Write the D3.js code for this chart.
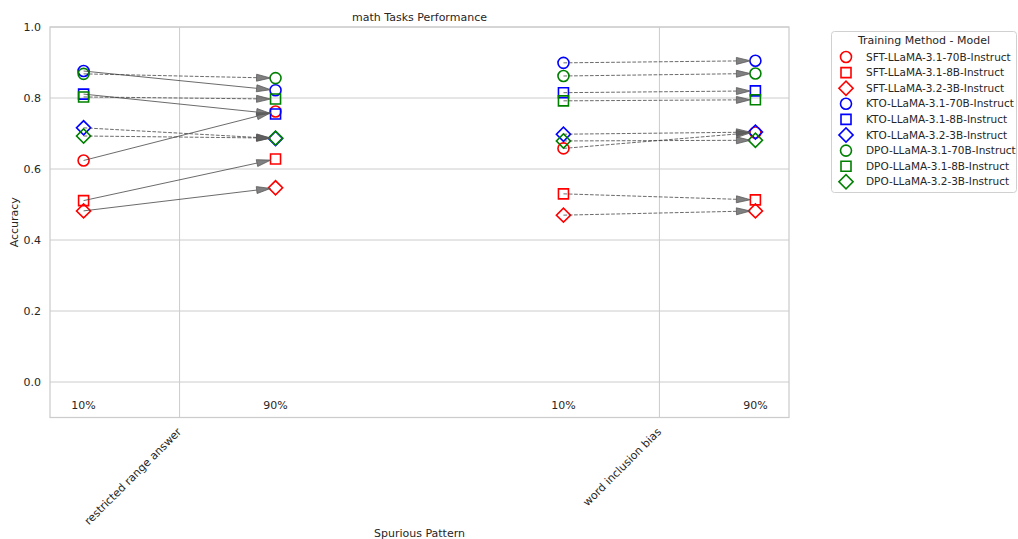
<!DOCTYPE html>
<html>
<head>
<meta charset="utf-8">
<script src="https://cdn.jsdelivr.net/npm/d3@7/dist/d3.min.js"></script>
<style>
  html, body { margin: 0; padding: 0; background: #fff; }
  svg { display: block; font-family: "DejaVu Sans", sans-serif; }
</style>
</head>
<body>
<svg id="chart" width="1018" height="539"></svg>
<script>
// ---- data ----
const methods = ["SFT", "KTO", "DPO"];
const models = ["LLaMA-3.1-70B-Instruct", "LLaMA-3.1-8B-Instruct", "LLaMA-3.2-3B-Instruct"];
const patterns = ["restricted range answer", "word inclusion bias"];
const ratios = ["10%", "90%"];
const yTicks = [0.0, 0.2, 0.4, 0.6, 0.8, 1.0];

// accuracy per series, ordered SFT(70B, 8B, 3B), KTO(70B, 8B, 3B), DPO(70B, 8B, 3B)
const restricted10 = [0.624, 0.511, 0.482, 0.876, 0.811, 0.716, 0.868, 0.803, 0.693];
const restricted90 = [0.762, 0.628, 0.547, 0.822, 0.755, 0.686, 0.856, 0.797, 0.687];
const wordBias10   = [0.658, 0.530, 0.470, 0.899, 0.815, 0.698, 0.862, 0.792, 0.679];
const wordBias90   = [0.703, 0.513, 0.482, 0.905, 0.820, 0.704, 0.869, 0.795, 0.681];

const accLow = [restricted10, wordBias10];
const accHigh = [restricted90, wordBias90];

const methodColor = { SFT: "#ff0000", KTO: "#0000ff", DPO: "#008000" };
const modelShape = ["circle", "square", "diamond"];

const series = [];
methods.forEach((m, mi) => models.forEach((md, di) => {
  series.push({ name: `${m}-${md}`, method: m, shape: modelShape[di], idx: mi * 3 + di });
}));

// ---- layout ----
const svg = d3.select("#chart");
const plot = { left: 50, right: 789, top: 27, bottom: 417.5 };
const ratioOffset = 0.2;

const x = d3.scaleLinear().domain([-0.27, 1.27]).range([plot.left, plot.right]);
const y = d3.scaleLinear().domain([-0.1, 1.0]).range([plot.bottom, plot.top]);

const gridColor = "#cccccc";
const textColor = "#262626";

// grid
const grid = svg.append("g");
grid.selectAll("line.h").data(yTicks).join("line")
  .attr("x1", plot.left).attr("x2", plot.right)
  .attr("y1", d => y(d)).attr("y2", d => y(d))
  .attr("stroke", gridColor).attr("stroke-width", 1);
grid.selectAll("line.v").data(patterns).join("line")
  .attr("x1", (d, i) => x(i)).attr("x2", (d, i) => x(i))
  .attr("y1", plot.top).attr("y2", plot.bottom)
  .attr("stroke", gridColor).attr("stroke-width", 1);

// frame
svg.append("rect")
  .attr("x", plot.left).attr("y", plot.top)
  .attr("width", plot.right - plot.left).attr("height", plot.bottom - plot.top)
  .attr("fill", "none").attr("stroke", gridColor).attr("stroke-width", 1.25);

// y axis
const yAxis = d3.axisLeft(y).tickValues(yTicks).tickFormat(d3.format(".1f")).tickSize(0).tickPadding(9);
const yg = svg.append("g").attr("transform", `translate(${plot.left},0)`).call(yAxis);
yg.select(".domain").remove();
yg.selectAll("text").attr("fill", textColor).style("font-size", "11px").style("font-family", "DejaVu Sans");

// x axis with rotated category labels
const xAxis = d3.axisBottom(x).tickValues(patterns.map((d, i) => i)).tickFormat(i => patterns[i]).tickSize(0);
const xg = svg.append("g").attr("transform", `translate(0,${plot.bottom})`).call(xAxis);
xg.select(".domain").remove();
xg.selectAll("text")
  .attr("fill", textColor).style("font-size", "11px").style("font-family", "DejaVu Sans")
  .attr("text-anchor", "end").attr("dy", null).attr("y", 0)
  .attr("transform", "translate(2,15) rotate(-45)");

// ratio labels inside the plot
const ratioLabels = [];
patterns.forEach((p, pi) => ratios.forEach((r, ri) => ratioLabels.push({ pi, ri, r })));
svg.append("g").selectAll("text").data(ratioLabels).join("text")
  .attr("x", d => x(d.pi + (d.ri === 0 ? -ratioOffset : ratioOffset)))
  .attr("y", y(-0.065))
  .attr("dy", "0.35em")
  .attr("text-anchor", "middle")
  .attr("fill", textColor).style("font-size", "11px")
  .text(d => d.r);

// titles
svg.append("text").attr("x", (plot.left + plot.right) / 2).attr("y", 17).attr("dy", "0.35em")
  .attr("text-anchor", "middle").attr("fill", textColor).style("font-size", "11px")
  .text("math Tasks Performance");
svg.append("text").attr("x", (plot.left + plot.right) / 2).attr("y", 533).attr("dy", "0.35em")
  .attr("text-anchor", "middle").attr("fill", textColor).style("font-size", "11px")
  .text("Spurious Pattern");
svg.append("text").attr("transform", `translate(14,${(plot.top + plot.bottom) / 2}) rotate(-90)`)
  .attr("dy", "0.35em").attr("text-anchor", "middle").attr("fill", textColor).style("font-size", "11px")
  .text("Accuracy");

// marker drawing
const symbolType = { circle: d3.symbolCircle, square: d3.symbolSquare, diamond: d3.symbolSquare };
const symbolSize = { circle: 95, square: 100, diamond: 100 };
function drawMarker(g, shape, cx, cy, color) {
  const path = d3.symbol().type(symbolType[shape]).size(symbolSize[shape])();
  const rot = shape === "diamond" ? " rotate(45)" : "";
  g.append("path").attr("d", path)
    .attr("transform", `translate(${cx},${cy})${rot}`)
    .attr("fill", "none").attr("stroke", color).attr("stroke-width", 1.6);
}

const markers = svg.append("g");
series.forEach(s => {
  patterns.forEach((p, pi) => {
    drawMarker(markers, s.shape, x(pi - ratioOffset), y(accLow[pi][s.idx]), methodColor[s.method]);
    drawMarker(markers, s.shape, x(pi + ratioOffset), y(accHigh[pi][s.idx]), methodColor[s.method]);
  });
});

// arrows from the 10% value to the 90% value; solid when the change exceeds 0.05
const arrows = svg.append("g");
const headLen = 14, headW = 7, shrinkEnd = 5;
series.forEach(s => {
  patterns.forEach((p, pi) => {
    const a = accLow[pi][s.idx], b = accHigh[pi][s.idx];
    const x1 = x(pi - ratioOffset), y1 = y(a);
    const x2 = x(pi + ratioOffset), y2 = y(b);
    const dx = x2 - x1, dy = y2 - y1, len = Math.hypot(dx, dy);
    const ux = dx / len, uy = dy / len, nx = -uy, ny = ux;
    const tx = x2 - ux * shrinkEnd, ty = y2 - uy * shrinkEnd;
    const bx = tx - ux * headLen, by = ty - uy * headLen;
    const solid = Math.abs(b - a) > 0.05;
    arrows.append("line")
      .attr("x1", x1).attr("y1", y1).attr("x2", bx).attr("y2", by)
      .attr("stroke", "#3a3a3a").attr("stroke-opacity", 0.75).attr("stroke-width", 1)
      .attr("stroke-dasharray", solid ? null : "3.7,1.6");
    arrows.append("path")
      .attr("d", `M${tx},${ty}L${bx + nx * headW / 2},${by + ny * headW / 2}L${bx - nx * headW / 2},${by - ny * headW / 2}Z`)
      .attr("fill", "#555555").attr("fill-opacity", 0.75)
      .attr("stroke", "#555555").attr("stroke-opacity", 0.75).attr("stroke-width", 1)
      .attr("stroke-linejoin", "miter");
  });
});

// legend
const lg = svg.append("g");
lg.append("rect").attr("x", 831.5).attr("y", 31.5).attr("width", 185).attr("height", 161)
  .attr("rx", 3).attr("fill", "#fff").attr("fill-opacity", 0.8).attr("stroke", "#d0d0d0");
lg.append("text").attr("x", 924).attr("y", 40).attr("dy", "0.35em").attr("text-anchor", "middle")
  .attr("fill", textColor).style("font-size", "11px").text("Training Method - Model");
series.forEach((s, i) => {
  const cy = 57 + i * 15.6;
  drawMarker(lg, s.shape, 846, cy, methodColor[s.method]);
  lg.append("text").attr("x", 866).attr("y", cy).attr("dy", "0.35em")
    .attr("fill", textColor).style("font-size", "10.5px").text(s.name);
});
</script>
</body>
</html>
